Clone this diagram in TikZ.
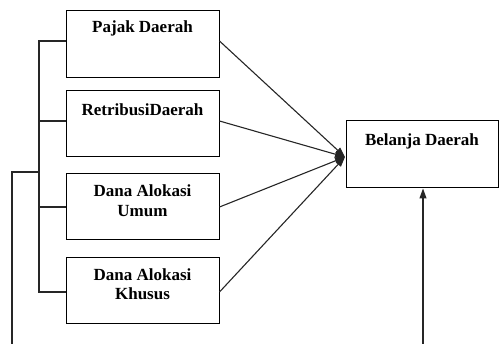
\documentclass[tikz,border=0pt]{standalone}
\usepackage{fontspec}
\setmainfont{Liberation Serif}
\usetikzlibrary{arrows.meta,calc}
\begin{document}
\begin{tikzpicture}[x=1pt,y=1pt,
  box/.style={draw,line width=1pt,rectangle,inner sep=0pt,minimum width=153pt,minimum height=66.5pt},
  txt/.style={font=\fontsize{17}{19.5}\selectfont\bfseries,align=center,anchor=base,inner sep=0pt},
  conn/.style={line width=1.1pt,draw=black!85},
  arr/.style={conn,-{Triangle[length=10pt,width=7pt]}}]
\useasboundingbox (0,0) rectangle (499,-344);
\node[box] (b1) at (142.5,-44) {};
\node[box] (b2) at (142.5,-123.5) {};
\node[box] (b3) at (142.5,-206.5) {};
\node[box] (b4) at (142.5,-290.5) {};
\node[box,minimum width=152pt,minimum height=67pt] (bd) at (422,-154.5) {};
\node[txt] (t1) at (142.5,-33) {Pajak Daerah};
\node[txt] (t2) at (142.5,-115.5) {RetribusiDaerah};
\node[txt] (t3) at (142.5,-216.5) {Dana Alokasi\\Umum};
\node[txt] (t4) at (142.5,-300) {Dana Alokasi\\Khusus};
\node[txt] (t5) at (422,-146) {Belanja Daerah};
\coordinate (tip) at (345,-157);
\coordinate (v1) at (39,-41);
\coordinate (v4) at (39,-292);
\coordinate (vj) at (39,-172);
\coordinate (o1) at (12,-172);
\coordinate (o2) at (12,-344);
\coordinate (a0) at (423,-344);
% bracket on the left
\draw[conn] ([yshift=3pt]b1.west) -- (v1) -- (v4) -- ([yshift=-1.5pt]b4.west);
\draw[conn] ([yshift=2.5pt]b2.west) -- ++(-27,0);
\draw[conn] ([yshift=-0.5pt]b3.west) -- ++(-27,0);
\draw[conn] (vj) -- (o1) -- (o2);
% arrows into Belanja Daerah
\draw[arr] ([yshift=3pt]b1.east) -- (tip);
\draw[arr] ([yshift=2.5pt]b2.east) -- (tip);
\draw[arr] ([yshift=-0.5pt]b3.east) -- (tip);
\draw[arr] ([yshift=-1.5pt]b4.east) -- (tip);
\draw[arr] (a0) -- (bd.south -| a0);
\end{tikzpicture}
\end{document}
